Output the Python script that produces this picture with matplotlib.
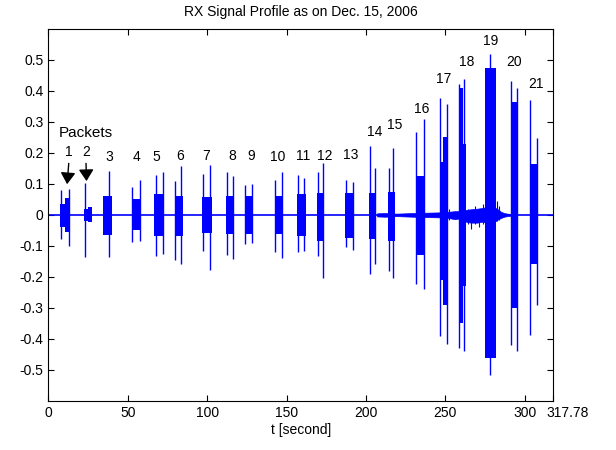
import matplotlib
matplotlib.use('Agg')
import matplotlib.pyplot as plt
from matplotlib.transforms import ScaledTranslation

plt.rcParams['font.family'] = ['Liberation Sans', 'DejaVu Sans']

# packet bodies: start time, end time, upper level, lower level
body_start = [7.3, 10.2, 22.6, 25.0, 34.2, 52.3, 66.5, 79.5, 96.9, 112.0, 123.7, 142.4,
              156.6, 169.2, 186.8, 202.0, 214.0, 231.4, 246.3, 248.8, 258.3, 261.0,
              275.0, 291.3, 303.2]
body_end = [10.2, 13.2, 25.0, 27.2, 39.8, 57.9, 72.6, 84.7, 103.0, 116.6, 128.7, 148.0,
            162.3, 173.8, 192.6, 206.6, 218.2, 237.1, 248.8, 251.0, 261.0, 263.0,
            281.8, 295.8, 307.6]
body_hi = [0.035, 0.055, 0.02, 0.026, 0.062, 0.05, 0.068, 0.062, 0.058, 0.062, 0.062, 0.06,
           0.067, 0.072, 0.07, 0.072, 0.074, 0.126, 0.17, 0.25, 0.41, 0.23,
           0.475, 0.365, 0.165]
body_lo = [-0.04, -0.055, -0.02, -0.022, -0.064, -0.05, -0.068, -0.068, -0.058, -0.062, -0.062,
           -0.062, -0.068, -0.084, -0.075, -0.078, -0.084, -0.13, -0.21, -0.29, -0.35, -0.23,
           -0.46, -0.30, -0.16]

# single tall spikes inside the packets
spike_t = [7.9, 13.0, 23.0, 38.2, 52.7, 57.5, 67.6, 72.1, 79.6, 83.7, 97.5, 101.9,
           112.3, 116.2, 124.0, 128.1, 142.8, 147.2, 157.0, 160.8, 169.6, 172.9,
           187.2, 192.0, 202.5, 205.6, 214.4, 217.3, 231.8, 236.6, 246.5, 250.9,
           258.6, 261.8, 277.9, 291.5, 295.3, 303.4, 307.5]
spike_hi = [0.081, 0.085, 0.104, 0.142, 0.091, 0.113, 0.128, 0.139, 0.11, 0.158, 0.131, 0.16,
            0.137, 0.124, 0.096, 0.101, 0.113, 0.137, 0.128, 0.12, 0.139, 0.167,
            0.113, 0.107, 0.223, 0.15, 0.15, 0.215, 0.268, 0.309, 0.378, 0.356,
            0.421, 0.437, 0.52, 0.432, 0.41, 0.37, 0.249]
spike_lo = [-0.078, -0.10, -0.135, -0.135, -0.089, -0.084, -0.132, -0.127, -0.145, -0.16,
            -0.116, -0.177, -0.129, -0.141, -0.095, -0.091, -0.121, -0.138, -0.119, -0.116,
            -0.134, -0.202, -0.102, -0.114, -0.19, -0.16, -0.18, -0.205, -0.224, -0.24,
            -0.389, -0.415, -0.428, -0.439, -0.515, -0.418, -0.44, -0.386, -0.289]

# background noise envelope late in the record
noise_t = [207, 212, 219, 230, 238, 246, 252, 256, 258, 263, 266, 270, 273, 275.8,
           281.7, 283, 285, 287, 289, 291]
noise_hi = [0.005, 0.006, 0.004, 0.006, 0.007, 0.008, 0.01, 0.012, 0.012, 0.016, 0.018, 0.02,
            0.022, 0.025, 0.022, 0.018, 0.01, 0.006, 0.004, 0.003]
noise_lo = [-0.005, -0.006, -0.004, -0.006, -0.007, -0.008, -0.01, -0.014, -0.012, -0.022,
            -0.025, -0.025, -0.022, -0.025, -0.02, -0.015, -0.01, -0.006, -0.004, -0.003]
noise_spike_t = [252.5, 264.5, 266.3, 268.8, 271.0, 273.5, 282.6, 284.0]
noise_spike_hi = [0.02, 0.02, 0.015, 0.03, 0.02, 0.035, 0.045, 0.03]
noise_spike_lo = [-0.015, -0.03, -0.047, -0.03, -0.04, -0.03, -0.02, -0.015]

# packet numbers
lbl_t = [12.9, 23.8, 38.6, 55.4, 68.2, 83.1, 99.6, 115.8, 127.9, 144.3, 160.2, 174.2,
         190.1, 205.2, 217.8, 234.9, 248.8, 263.5, 278.8, 293.2, 306.8]
lbl_y = [0.202, 0.202, 0.186, 0.186, 0.186, 0.189, 0.189, 0.189, 0.189, 0.186, 0.189, 0.189,
         0.192, 0.266, 0.289, 0.34, 0.437, 0.492, 0.56, 0.492, 0.421]

t_end = 317.78
xticks = [0, 50, 100, 150, 200, 250, 300, t_end]
xtick_labels = ['0', '50', '100', '150', '200', '250', '300', '317.78']
yticks = [-0.5, -0.4, -0.3, -0.2, -0.1, 0, 0.1, 0.2, 0.3, 0.4, 0.5]
ytick_labels = ['-0.5', '-0.4', '-0.3', '-0.2', '-0.1', '0', '0.1', '0.2', '0.3', '0.4', '0.5']

fig = plt.figure(figsize=(6.16, 4.5), dpi=100)
ax = fig.add_axes([0.0787, 0.109, 0.819, 0.827])

blue = (0, 0, 1)
ax.plot([0, t_end], [0, 0], color=blue, lw=1.2)
ax.fill_between(noise_t, noise_lo, noise_hi, color=blue, lw=0.5)
ax.vlines(noise_spike_t, noise_spike_lo, noise_spike_hi, color=blue, lw=0.8)
widths = [e - s for s, e in zip(body_start, body_end)]
heights = [h - l for h, l in zip(body_hi, body_lo)]
ax.bar(body_start, heights, width=widths, bottom=body_lo, align='edge', color=blue, lw=0)
ax.vlines(spike_t, spike_lo, spike_hi, color=blue, lw=1.0)

for i in range(len(lbl_t)):
    ax.text(lbl_t[i], lbl_y[i], str(i + 1), ha='center', va='center', fontsize=10)

ax.text(23.4, 0.263, 'Packets', ha='center', va='center', fontsize=11)
arrow = dict(arrowstyle='-|>,head_length=0.7,head_width=0.45', color='black', lw=1.0)
ax.annotate('', xy=(11.6, 0.09), xytext=(12.9, 0.175), arrowprops=arrow)
ax.annotate('', xy=(24.0, 0.10), xytext=(23.6, 0.175), arrowprops=arrow)

ax.set_xlim(0, t_end)
ax.set_ylim(-0.6, 0.6)
ax.set_xticks(xticks)
ax.set_xticklabels(xtick_labels)
ax.set_yticks(yticks)
ax.set_yticklabels(ytick_labels)
ax.tick_params(direction='in', top=True, right=True, length=4, labelsize=10)
for s in ax.spines.values():
    s.set_linewidth(0.8)

# the end-time label sits a little right of its tick
last = ax.get_xticklabels()[-1]
last.set_transform(last.get_transform() + ScaledTranslation(15 / 100, 0, fig.dpi_scale_trans))

ax.set_title('RX Signal Profile as on Dec. 15, 2006', fontsize=10, pad=9)
ax.set_xlabel('t [second]', fontsize=10, labelpad=2)

fig.savefig('out.png', dpi=100)
